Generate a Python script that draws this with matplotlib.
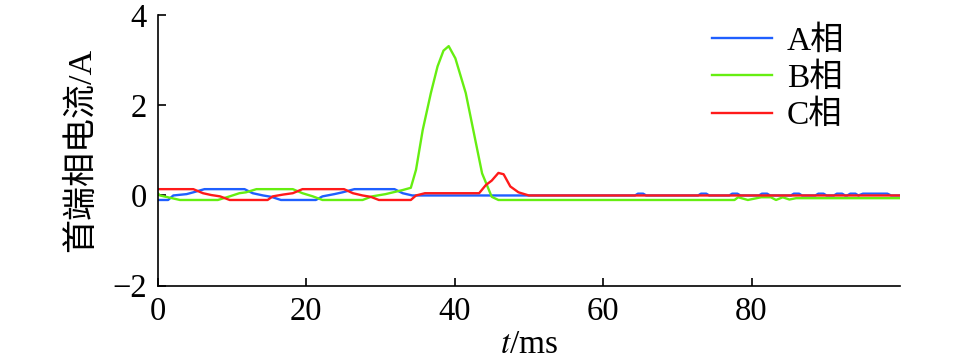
import matplotlib
matplotlib.use('Agg')
import matplotlib.pyplot as plt

plt.rcParams['font.family'] = ['Liberation Serif', 'Noto Sans CJK SC']
plt.rcParams['mathtext.fontset'] = 'stix'
plt.rcParams['axes.unicode_minus'] = True

# Phase currents (t in ms, current in A)
t_a = [0, 1.4, 2.1, 3.9, 4.8, 6.3, 11.7, 12.8, 14.2, 15.3, 16.6, 21.3, 22.2, 23.8, 24.9, 26.5,
       31.9, 33.0, 34.3, 64.3, 64.7, 65.4, 65.8, 72.8, 73.2, 73.9, 74.3, 77.0, 77.4, 78.1, 78.5,
       81.0, 81.4, 82.1, 82.5, 85.3, 85.7, 86.4, 86.8, 88.6, 89.0, 89.7, 90.1, 91.1, 91.5, 92.2,
       92.6, 92.9, 93.3, 94.0, 94.4, 95.0, 98.3, 98.8, 100]
i_a = [-0.1, -0.1, 0.0, 0.03, 0.07, 0.14, 0.14, 0.05, 0.0, -0.03, -0.1, -0.1, -0.02, 0.03, 0.07, 0.14,
       0.14, 0.05, 0.0, 0.0, 0.04, 0.04, 0.0, 0.0, 0.04, 0.04, 0.0, 0.0, 0.04, 0.04, 0.0,
       0.0, 0.04, 0.04, 0.0, 0.0, 0.04, 0.04, 0.0, 0.0, 0.04, 0.04, 0.0, 0.0, 0.04, 0.04,
       0.0, 0.0, 0.04, 0.04, 0.0, 0.04, 0.04, 0.0, 0.0]

t_b = [0, 0.3, 3.0, 8.1, 9.7, 11.0, 11.9, 13.3, 18.2, 19.5, 20.9, 22.2, 27.6, 28.9, 30.7, 33.0,
       34.1, 34.8, 35.7, 36.8, 37.7, 38.5, 39.2, 40.1, 41.5, 42.6, 43.7, 45.0, 45.9, 77.7,
       78.2, 79.5, 81.3, 82.6, 83.3, 84.2, 85.1, 86.0, 100]
i_b = [0.05, 0.0, -0.1, -0.1, -0.02, 0.05, 0.07, 0.14, 0.14, 0.05, -0.02, -0.1, -0.1, -0.02, 0.03, 0.12,
       0.17, 0.57, 1.45, 2.27, 2.86, 3.21, 3.31, 3.04, 2.27, 1.38, 0.49, -0.03, -0.1, -0.1,
       -0.04, -0.1, -0.04, -0.04, -0.1, -0.04, -0.09, -0.06, -0.06]

t_c = [0, 4.8, 6.1, 7.2, 8.4, 9.7, 14.8, 15.5, 16.9, 18.2, 19.5, 25.1, 26.3, 27.6, 28.7, 29.8,
       34.1, 34.8, 36.0, 43.3, 44.2, 45.0, 45.9, 46.6, 47.5, 48.6, 50.0, 100]
i_c = [0.14, 0.14, 0.05, 0.01, -0.02, -0.1, -0.1, -0.02, 0.02, 0.05, 0.14, 0.14, 0.05, 0.0, -0.03, -0.1,
       -0.1, 0.0, 0.05, 0.05, 0.23, 0.33, 0.5, 0.47, 0.2, 0.07, 0.0, 0.0]

labels = ['A相', 'B相', 'C相']
colors = ['#1f5fff', '#66ee11', '#ff1a1a']

fig = plt.figure(figsize=(9.6, 3.61), dpi=100)
ax = fig.add_axes([157.7 / 960, 1 - 285.7 / 361, (900 - 157.7) / 960, (285.7 - 15) / 361])

for t, i, lab, c in zip([t_a, t_b, t_c], [i_a, i_b, i_c], labels, colors):
    ax.plot(t, i, color=c, lw=1.7, label=lab)

ax.set_xlim(0, 100)
ax.set_ylim(-2, 4)
ax.set_xticks([0, 20, 40, 60, 80])
ax.set_yticks([-2, 0, 2, 4])
for s in ['top', 'right']:
    ax.spines[s].set_visible(False)
for s in ['left', 'bottom']:
    ax.spines[s].set_linewidth(1.2)
ax.tick_params(direction='in', length=5.5, width=1.2, labelsize=23.5)
ax.tick_params(axis='y', pad=8)
ax.tick_params(axis='x', pad=8)

ax.set_ylabel('首端相电流/A', fontsize=24.5)
ax.yaxis.set_label_coords(-0.082, 0.5)
ax.set_xlabel('$t$/ms', fontsize=24)
ax.xaxis.set_label_coords(0.5, -0.16)

ax.legend(loc='upper left', bbox_to_anchor=(712 / 960, 1 - 26 / 361), bbox_transform=fig.transFigure,
          frameon=False, fontsize=24, borderpad=0, borderaxespad=0, handlelength=1.8,
          handletextpad=0.45, labelspacing=0.2)

fig.savefig('out.png', dpi=100)
